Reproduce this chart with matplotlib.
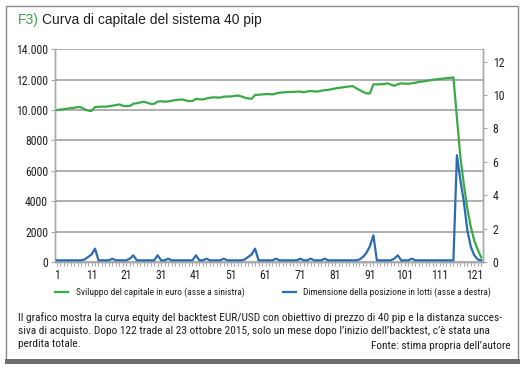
import matplotlib
matplotlib.use("Agg")
import matplotlib.pyplot as plt
from matplotlib.lines import Line2D
from matplotlib.patches import Rectangle
import numpy as np

W, H = 530, 371

# equity curve in euro (left axis), one value per trade 1..123
equity = [10000, 10030, 10060, 10090, 10130, 10150, 10200, 10180, 10050, 9960,
          9940, 10200, 10210, 10230, 10220, 10250, 10290, 10330, 10370, 10280,
          10260, 10270, 10420, 10450, 10500, 10550, 10480, 10410, 10410, 10560,
          10580, 10550, 10570, 10610, 10650, 10680, 10700, 10640, 10590, 10600,
          10740, 10710, 10700, 10760, 10810, 10840, 10830, 10820, 10880, 10890,
          10900, 10920, 10960, 10900, 10820, 10770, 10740, 10990, 11010, 11030,
          11050, 11050, 11030, 11090, 11140, 11160, 11180, 11190, 11200, 11210,
          11220, 11170, 11230, 11250, 11230, 11220, 11270, 11310, 11330, 11380,
          11420, 11460, 11490, 11520, 11550, 11580, 11450, 11320, 11200, 11100,
          11100, 11690, 11690, 11700, 11710, 11760, 11680, 11600, 11700, 11760,
          11740, 11730, 11760, 11800, 11850, 11880, 11910, 11950, 11990, 12020,
          12040, 12070, 12100, 12120, 12150, 9500, 6900, 5100, 3500, 2300,
          1400, 800, 300]

# position size in lots (right axis)
lots = [0.1, 0.1, 0.1, 0.1, 0.1, 0.1, 0.1, 0.1, 0.15, 0.3,
        0.45, 0.8, 0.1, 0.1, 0.1, 0.1, 0.2, 0.1, 0.1, 0.1,
        0.1, 0.2, 0.4, 0.1, 0.1, 0.1, 0.1, 0.1, 0.1, 0.4,
        0.1, 0.1, 0.2, 0.1, 0.1, 0.1, 0.1, 0.1, 0.1, 0.1,
        0.4, 0.1, 0.1, 0.2, 0.1, 0.1, 0.1, 0.1, 0.2, 0.1,
        0.1, 0.1, 0.1, 0.1, 0.15, 0.3, 0.45, 0.8, 0.1, 0.1,
        0.1, 0.1, 0.1, 0.2, 0.1, 0.1, 0.1, 0.1, 0.1, 0.1,
        0.2, 0.1, 0.1, 0.2, 0.1, 0.1, 0.1, 0.2, 0.1, 0.1,
        0.1, 0.1, 0.1, 0.1, 0.1, 0.1, 0.1, 0.15, 0.3, 0.55,
        0.95, 1.6, 0.1, 0.1, 0.1, 0.1, 0.1, 0.2, 0.4, 0.1,
        0.1, 0.1, 0.2, 0.1, 0.1, 0.1, 0.1, 0.1, 0.1, 0.1,
        0.1, 0.1, 0.1, 0.1, 0.1, 6.4, 4.9, 3.6, 1.9, 0.9,
        0.4, 0.15, 0.1]

trades = list(range(1, len(equity) + 1))
x_labels = list(range(1, 122, 10))
left_ticks = [0, 2000, 4000, 6000, 8000, 10000, 12000, 14000]
left_labels = ["0", "2000", "4000", "6000", "8000", "10.000", "12.000", "14.000"]
right_ticks = [0, 2, 4, 6, 8, 10, 12]

title_tag = "F3)"
title = "Curva di capitale del sistema 40 pip"
legend_labels = ["Sviluppo del capitale in euro (asse a sinistra)",
                 "Dimensione della posizione in lotti (asse a destra)"]
caption = ["Il grafico mostra la curva equity del backtest EUR/USD con obiettivo di prezzo di 40 pip e la distanza succes-",
           "siva di acquisto. Dopo 122 trade al 23 ottobre 2015, solo un mese dopo l\u2019inizio dell\u2019backtest, c\u2019\u00e8 stata una",
           "perdita totale."]
source = "Fonte: stima propria dell\u2019autore"

GREEN = "#3aaa49"
BLUE = "#2b6cb0"
GRID = "#a9a9a9"
TXT = "#231f20"
NARROW = ["Roboto Condensed", "Archivo Narrow", "DejaVu Sans"]
SANS = ["Liberation Sans", "DejaVu Sans"]


def fx(px):
    return px / W


def fy(py):
    return 1 - py / H


fig = plt.figure(figsize=(W / 100, H / 100), dpi=100)
fig.patch.set_facecolor("white")

# frame and bottom bar
fig.add_artist(Rectangle((fx(6), fy(360)), fx(518) - fx(6), fy(6) - fy(360),
                         transform=fig.transFigure, fill=False, edgecolor="#8a8a8a", lw=1))
fig.add_artist(Rectangle((fx(5), fy(364)), fx(520) - fx(5), fy(359) - fy(364),
                         transform=fig.transFigure, facecolor="#6d6e71", edgecolor="none"))

ax = fig.add_axes([fx(55), fy(262), fx(483) - fx(55), fy(49.3) - fy(262)])
ax2 = ax.twinx()

ax.plot(trades, equity, color=GREEN, lw=1.6, zorder=3, solid_joinstyle="round")
ax2.plot(trades, lots, color=BLUE, lw=1.6, zorder=3, solid_joinstyle="round")

ax.set_xlim(0.5, len(trades) + 0.5)
ax.set_ylim(0, 14000)
ax2.set_ylim(0, 12.74)

ax.set_yticks(left_ticks)
ax.set_yticklabels(left_labels)
ax2.set_yticks(right_ticks)
ax.set_xticks(x_labels)
ax.set_xticks(trades, minor=True)

ax.grid(axis="y", color=GRID, lw=1.3)
ax.set_axisbelow(True)

for a in (ax, ax2):
    for s in a.spines.values():
        s.set_color(GRID)
        s.set_linewidth(1.0)
    a.spines["top"].set_visible(False)

ax.tick_params(axis="x", which="both", length=3, width=0.8, color=GRID, pad=2,
               labelsize=8.5, labelcolor=TXT)
ax.tick_params(axis="y", length=3, width=0.8, color=GRID, pad=2, labelsize=8.5, labelcolor=TXT)
ax2.tick_params(axis="y", length=3, width=0.8, color=GRID, pad=4, labelsize=8.5, labelcolor=TXT)
for lab in ax.get_xticklabels() + ax.get_yticklabels() + ax2.get_yticklabels():
    lab.set_family(NARROW)

# title
t1 = fig.text(fx(18), fy(20), title_tag, color=GREEN, fontsize=10, family=SANS, va="center")
fig.canvas.draw()
bb = t1.get_window_extent()
fig.text(fx(bb.x1 + 3), fy(20), title, color=TXT, fontsize=10, family=SANS, va="center")

# legend
fig.add_artist(Line2D([fx(55), fx(68)], [fy(292), fy(292)], color=GREEN, lw=1.6))
fig.text(fx(76), fy(292), legend_labels[0], color=TXT, fontsize=6.8, family=NARROW, va="center")
fig.add_artist(Line2D([fx(283), fx(296)], [fy(292), fy(292)], color=BLUE, lw=1.6))
fig.text(fx(303), fy(292), legend_labels[1], color=TXT, fontsize=6.8, family=NARROW, va="center")

# caption
for i, line in enumerate(caption):
    fig.text(fx(18), fy(318 + 13 * i), line, color=TXT, fontsize=8.2, family=NARROW, va="center")
fig.text(fx(511), fy(346), source, color=TXT, fontsize=8.2, family=NARROW, va="center", ha="right")

fig.savefig("out.png", dpi=100)
